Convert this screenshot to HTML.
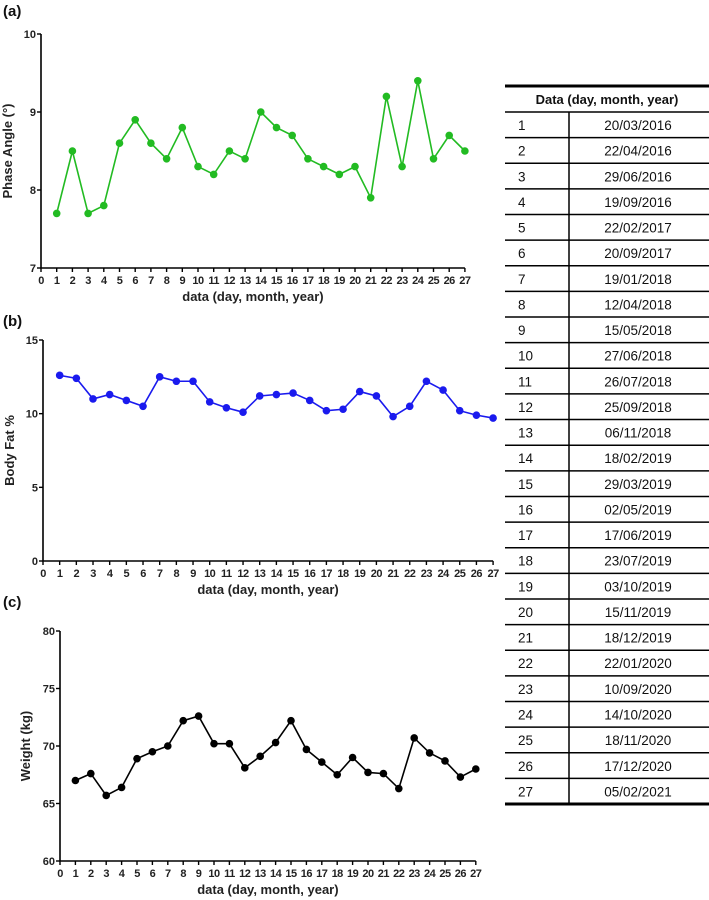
<!DOCTYPE html>
<html><head><meta charset="utf-8"><style>
body{margin:0;background:#fff;width:709px;height:900px;overflow:hidden;font-family:"Liberation Sans",sans-serif}
svg{position:absolute;left:0;top:0}
</style></head><body>
<svg id="s" width="709" height="900"></svg>
<script>
const categories=[1,2,3,4,5,6,7,8,9,10,11,12,13,14,15,16,17,18,19,20,21,22,23,24,25,26,27];
const phaseValues=[7.7,8.5,7.7,7.8,8.6,8.9,8.6,8.4,8.8,8.3,8.2,8.5,8.4,9.0,8.8,8.7,8.4,8.3,8.2,8.3,7.9,9.2,8.3,9.4,8.4,8.7,8.5];
const fatValues=[12.6,12.4,11,11.3,10.9,10.5,12.5,12.2,12.2,10.8,10.4,10.1,11.2,11.3,11.4,10.9,10.2,10.3,11.5,11.2,9.8,10.5,12.2,11.6,10.2,9.9,9.7];
const weightValues=[67,67.6,65.7,66.4,68.9,69.5,70,72.2,72.6,70.2,70.2,68.1,69.1,70.3,72.2,69.7,68.6,67.5,69,67.7,67.6,66.3,70.7,69.4,68.7,67.3,68];
const phaseTicks=[7,8,9,10];
const fatTicks=[0,5,10,15];
const weightTicks=[60,65,70,75,80];
const xTicks=[0,1,2,3,4,5,6,7,8,9,10,11,12,13,14,15,16,17,18,19,20,21,22,23,24,25,26,27];
const dates=["20/03/2016","22/04/2016","29/06/2016","19/09/2016","22/02/2017","20/09/2017","19/01/2018","12/04/2018","15/05/2018","27/06/2018","26/07/2018","25/09/2018","06/11/2018","18/02/2019","29/03/2019","02/05/2019","17/06/2019","23/07/2019","03/10/2019","15/11/2019","18/12/2019","22/01/2020","10/09/2020","14/10/2020","18/11/2020","17/12/2020","05/02/2021"];
const NS="http://www.w3.org/2000/svg";
const svg=document.getElementById('s');
function mk(tag,attrs,parent,txt){const e=document.createElementNS(NS,tag);for(const k in attrs)e.setAttribute(k,attrs[k]);if(txt!==undefined)e.textContent=txt;(parent||svg).appendChild(e);return e;}
function chart(o){
  const g=mk('g',{});
  
  
  const ymin=o.ticks[0],ymax=o.ticks[o.ticks.length-1];
  const X=v=>o.x0+v*o.dx;
  const Y=v=>o.yb-(v-ymin)/(ymax-ymin)*(o.yb-o.yt);
  const xe=X(27);
  const ax=mk('path',{d:`M${o.x0},${o.yt}V${o.yb}H${xe}`,stroke:'#000','stroke-width':1.6,fill:'none'},g);
  
  
  o.ticks.forEach(t=>{
    mk('line',{x1:o.x0-4,x2:o.x0,y1:Y(t),y2:Y(t),stroke:'#000','stroke-width':1.4},g);
    const l=mk('text',{x:o.x0-5,y:Y(t)+4,'text-anchor':'end','font-size':11,'font-weight':'bold',fill:'#222'},g,t);
    
    
  });
  xTicks.forEach(t=>{
    mk('line',{x1:X(t),x2:X(t),y1:o.yb,y2:o.yb+4,stroke:'#000','stroke-width':1.4},g);
    const l=mk('text',{x:X(t),y:o.yb+16,'text-anchor':'middle','font-size':11,'font-weight':'bold',fill:'#222','letter-spacing':'-0.5'},g,t);
    
    
  });
  const xt=mk('text',{x:(o.x0+xe)/2,y:o.yb+33,'text-anchor':'middle','font-size':13,'font-weight':'bold',fill:'#222'},g,'data (day, month, year)');
  
  
  const yc=(o.yt+o.yb)/2;
  const yt=mk('text',{x:o.ytx,y:yc,'text-anchor':'middle','font-size':13,'font-weight':'bold',fill:'#222',transform:`rotate(-90 ${o.ytx} ${yc})`},g,o.ytitle);
  
  
  const pl=mk('text',{x:3,y:o.labY,'font-size':15,'font-weight':'bold',fill:'#111'},g,o.label);
  
  
  const pts=categories.map((c,i)=>X(c)+','+Y(o.vals[i])).join(' ');
  const ln=mk('polyline',{points:pts,fill:'none',stroke:o.color,'stroke-width':1.6},g);
  
  
  categories.forEach((c,i)=>{
    const p=mk('circle',{cx:X(c),cy:Y(o.vals[i]),r:3.8,fill:o.color},g);
    
    
  });
}
chart({name:'phase-angle-chart',x0:41,dx:15.7,yt:34,yb:268,ticks:phaseTicks,vals:phaseValues,color:'#22bb22',ytitle:'Phase Angle (°)',ytx:12,label:'(a)',labY:16});
chart({name:'body-fat-chart',x0:43,dx:16.67,yt:340,yb:561,ticks:fatTicks,vals:fatValues,color:'#1a1aee',ytitle:'Body Fat %',ytx:14,label:'(b)',labY:326});
chart({name:'weight-chart',x0:60,dx:15.4,yt:631,yb:861,ticks:weightTicks,vals:weightValues,color:'#000',ytitle:'Weight (kg)',ytx:30,label:'(c)',labY:607});
const tg=mk('g',{});


const tx0=505,tx1=709,tTop=86,hb=112,rh=25.63,div=569;
mk('line',{x1:tx0,x2:tx1,y1:tTop,y2:tTop,stroke:'#000','stroke-width':3},tg);
const h=mk('text',{x:(tx0+tx1)/2,y:104,'text-anchor':'middle','font-size':13,'font-weight':'bold',fill:'#111'},tg,'Data (day, month, year)');


mk('line',{x1:tx0,x2:tx1,y1:hb,y2:hb,stroke:'#000','stroke-width':1.5},tg);
dates.forEach((d,i)=>{
  const y0=hb+i*rh;
  const yb=y0+rh;
  mk('line',{x1:tx0,x2:tx1,y1:yb,y2:yb,stroke:'#000','stroke-width':i==26?3:1.5},tg);
  const a=mk('text',{x:518,y:y0+18,'font-size':13.5,fill:'#111'},tg,categories[i]);
  
  
  const b=mk('text',{x:638,y:y0+18,'text-anchor':'middle','font-size':13.5,fill:'#111'},tg,d);
  
  
});
mk('line',{x1:div,x2:div,y1:hb,y2:hb+27*rh,stroke:'#000','stroke-width':1.5},tg);
</script>
</body></html>
